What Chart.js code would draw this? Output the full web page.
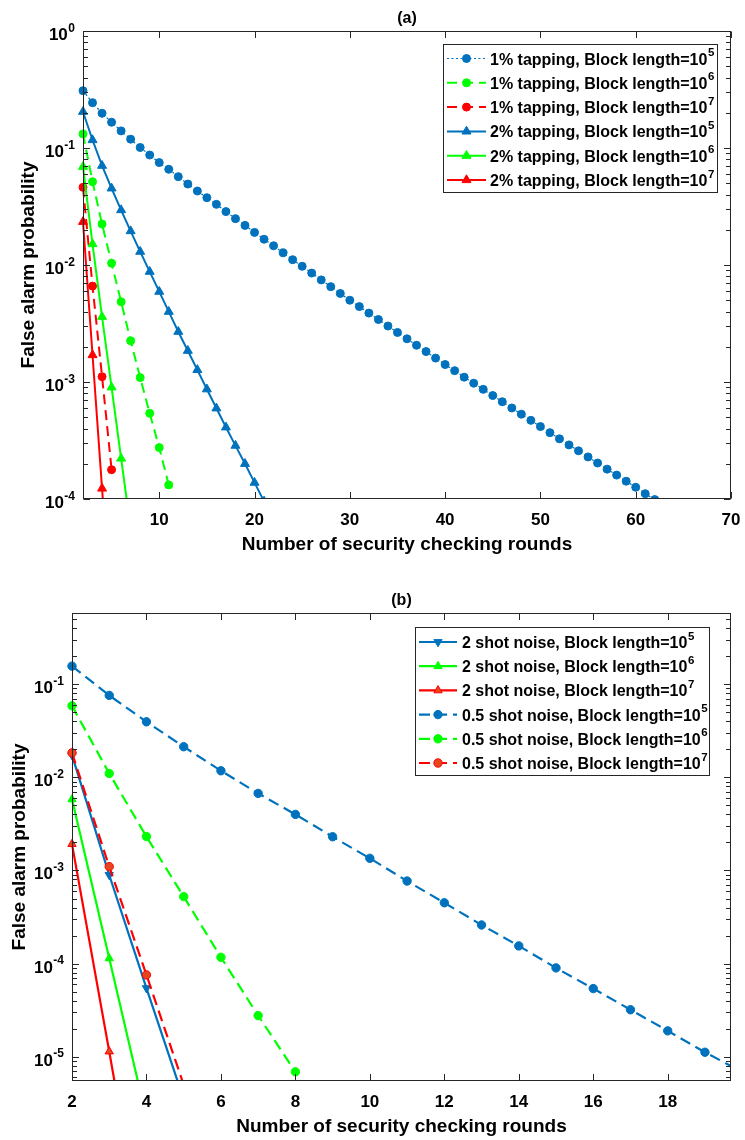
<!DOCTYPE html>
<html><head><meta charset="utf-8">
<script src="https://cdn.jsdelivr.net/npm/chart.js@4.4.1/dist/chart.umd.min.js"></script>
<style>
html,body{margin:0;padding:0;background:#fff;}
#wrap{position:relative;width:745px;height:1140px;overflow:hidden;}
canvas{position:absolute;left:0;}
</style></head><body>
<div id="wrap">
<canvas id="ca" width="745" height="570" style="top:0px"></canvas>
<canvas id="cb" width="745" height="570" style="top:570px"></canvas>
</div>
<script>
// ---------------- DATA : panel (a) ----------------
const roundsA_1pct_1e5 = [2,3,4,5,6,7,8,9,10,11,12,13,14,15,16,17,18,19,20,21,22,23,24,25,26,27,28,29,30,31,32,33,34,35,36,37,38,39,40,41,42,43,44,45,46,47,48,49,50,51,52,53,54,55,56,57,58,59,60,61,62];
const faA_1pct_1e5 = [0.309,0.244,0.198,0.166,0.140,0.119,0.101,0.0871,0.0750,0.0658,0.0569,0.0492,0.0429,0.0376,0.0330,0.0286,0.0249,0.0218,0.0190,0.0166,0.0146,0.0127,0.0111,0.00975,0.00853,0.00746,0.00653,0.00571,0.00500,0.00441,0.00388,0.00342,0.00301,0.00265,0.00234,0.00206,0.00182,0.00160,0.00141,0.00125,0.00110,0.000977,0.000865,0.000766,0.000678,0.000600,0.000531,0.000470,0.000416,0.000369,0.000327,0.000290,0.000258,0.000229,0.000203,0.000180,0.000160,0.000142,0.000126,0.000111,0.0000989];
const roundsA_1pct_1e6 = [2,3,4,5,6,7,8,9,10,11];
const faA_1pct_1e6 = [0.132,0.0515,0.0224,0.01035,0.00485,0.00225,0.00109,0.000540,0.000275,0.000132];
const roundsA_1pct_1e7 = [2,3,4,5];
const faA_1pct_1e7 = [0.0461,0.0066,0.00111,0.000178];
const roundsA_2pct_1e5 = [2,3,4,5,6,7,8,9,10,11,12,13,14,15,16,17,18,19,20,21];
const faA_2pct_1e5 = [0.204,0.117,0.0706,0.0452,0.0295,0.0195,0.0130,0.00877,0.00592,0.00399,0.00269,0.00185,0.00127,0.000867,0.000596,0.000410,0.000286,0.000200,0.000138,0.0000955];
const roundsA_2pct_1e6 = [2,3,4,5,6,7];
const faA_2pct_1e6 = [0.0692,0.0151,0.00361,0.000901,0.000222,0.0000562];
const roundsA_2pct_1e7 = [2,3,4,5];
const faA_2pct_1e7 = [0.0234,0.0017,0.000123,0.0000089];
const legendA = ['1% tapping, Block length=10^5','1% tapping, Block length=10^6','1% tapping, Block length=10^7',
                 '2% tapping, Block length=10^5','2% tapping, Block length=10^6','2% tapping, Block length=10^7'];
const xTicksA = [10,20,30,40,50,60,70];
const yExpA = [0,-1,-2,-3,-4];
const xRangeA = [2,70];
const yRangeA = [1e-4,1];

// ---------------- DATA : panel (b) ----------------
const roundsB_2sn_1e5 = [2,3,4,5];
const faB_2sn_1e5 = [0.0173,0.000895,0.0000546,0.0000035];
const roundsB_2sn_1e6 = [2,3,4];
const faB_2sn_1e6 = [0.0058,0.000114,0.0000022];
const roundsB_2sn_1e7 = [2,3,4];
const faB_2sn_1e7 = [0.00192,0.0000114,0.000000063];
const roundsB_05sn_1e5 = [2,3,4,5,6,7,8,9,10,11,12,13,14,15,16,17,18,19,20];
const faB_05sn_1e5 = [0.156,0.0757,0.0394,0.0213,0.01175,0.00672,0.0040,0.0023,0.00135,0.00077,0.00045,0.00026,0.000155,0.00009,0.000054,0.000032,0.000019,0.0000112,0.0000069];
const roundsB_05sn_1e6 = [2,3,4,5,6,7,8];
const faB_05sn_1e6 = [0.0585,0.0110,0.00231,0.000524,0.000117,0.0000277,0.0000069];
const roundsB_05sn_1e7 = [2,3,4,5];
const faB_05sn_1e7 = [0.0183,0.0011,0.0000757,0.000005];
const legendB = ['2 shot noise, Block length=10^5','2 shot noise, Block length=10^6','2 shot noise, Block length=10^7',
                 '0.5 shot noise, Block length=10^5','0.5 shot noise, Block length=10^6','0.5 shot noise, Block length=10^7'];
const xTicksB = [2,4,6,8,10,12,14,16,18];
const yExpB = [-1,-2,-3,-4,-5];
const xRangeB = [2,19.7];
const yRangeB = [5.5e-6,0.58];

// ---------------- STYLE ----------------
const BLUE = '#0072BD', GREEN = '#00FF00', RED = '#FF0000', ORANGE = '#E5461E', AX = '#262626';
const FAM = '"Liberation Sans", Arial, Helvetica, sans-serif';

function series(rounds, vals){ return rounds.map((r,i)=>({x:r, y:vals[i]})); }

function ds(label, data, color, dash, width, style, radius, rot, face){
  return {label, data, borderColor: color, backgroundColor: face||color, borderWidth: width,
    borderDash: dash, pointStyle: style, pointRadius: radius, pointRotation: rot||0,
    pointBorderColor: color, pointBackgroundColor: face||color, pointBorderWidth: 1,
    tension: 0, fill: false, clip: {left: 12, top: 12, right: 0, bottom: 0}};
}

function drawMarker(ctx, style, x, y, r, rot, fill, stroke){
  ctx.save(); ctx.setLineDash([]);
  ctx.beginPath();
  if (style === 'circle') ctx.arc(x, y, r, 0, Math.PI*2);
  else {
    let t = (rot||0)*Math.PI/180;
    for (let k=0;k<3;k++){ const px = x + Math.sin(t)*r, py = y - Math.cos(t)*r; if(k) ctx.lineTo(px,py); else ctx.moveTo(px,py); t += 2*Math.PI/3; }
    ctx.closePath();
  }
  ctx.fillStyle = fill; ctx.fill(); ctx.strokeStyle = stroke; ctx.lineWidth = 1; ctx.stroke();
  ctx.restore();
}

function supText(ctx, x, y, base, sup, fb, fs, raise, align){
  ctx.font = fb; const wb = ctx.measureText(base).width;
  ctx.font = fs; const ws = sup ? ctx.measureText(sup).width + 0.5 : 0;
  const w = wb + ws;
  const x0 = align === 'right' ? x - w : (align === 'center' ? x - w/2 : x);
  ctx.textAlign = 'left'; ctx.textBaseline = 'alphabetic'; ctx.fillStyle = '#000';
  ctx.font = fb; ctx.fillText(base, x0, y);
  if (sup){ ctx.font = fs; ctx.fillText(sup, x0 + wb + 0.5, y - raise); }
}

function makeDecor(cfg){
  return {
    id: 'decor',
    afterDatasetsDraw(chart){
      const ctx = chart.ctx, a = chart.chartArea, xs = chart.scales.x, ys = chart.scales.y;
      ctx.save();
      ctx.setLineDash([]);
      ctx.strokeStyle = AX; ctx.lineWidth = 1;
      const L = Math.round(a.left)+0.5, R = Math.round(a.right)-0.5, T = Math.round(a.top)+0.5, B = Math.round(a.bottom)-0.5;
      ctx.strokeRect(L, T, R-L, B-T);
      const MJ = 6.5, MN = 4.5;
      ctx.beginPath();
      cfg.xTicks.forEach(v => {
        const px = Math.round(xs.getPixelForValue(v)) + 0.5;
        ctx.moveTo(px, B); ctx.lineTo(px, B - MJ);
        ctx.moveTo(px, T); ctx.lineTo(px, T + MJ);
      });
      const lo = Math.floor(Math.log10(cfg.yRange[0])), hi = Math.ceil(Math.log10(cfg.yRange[1]));
      for (let e = lo; e <= hi; e++){
        for (let m = 1; m <= 9; m++){
          const v = m * Math.pow(10, e);
          if (v < cfg.yRange[0]*0.999 || v > cfg.yRange[1]*1.001) continue;
          const py = Math.round(ys.getPixelForValue(v)) + 0.5;
          const len = m === 1 ? MJ : MN;
          ctx.moveTo(L, py); ctx.lineTo(L + len, py);
          ctx.moveTo(R, py); ctx.lineTo(R - len, py);
        }
      }
      ctx.stroke();
      const fT = 'bold 17px ' + FAM, fTs = 'bold 12px ' + FAM;
      cfg.xTicks.forEach(v => {
        ctx.font = fT; ctx.fillStyle = '#000'; ctx.textAlign = 'center'; ctx.textBaseline = 'alphabetic';
        ctx.fillText(String(v), xs.getPixelForValue(v), a.bottom + 25.5);
      });
      cfg.yExp.forEach(e => {
        const py = ys.getPixelForValue(Math.pow(10, e));
        supText(ctx, a.left - 8, py + 9, '10', String(e), fT, fTs, 8.5, 'right');
      });
      ctx.font = 'bold 19px ' + FAM; ctx.fillStyle = '#000'; ctx.textAlign = 'center'; ctx.textBaseline = 'alphabetic';
      ctx.fillText(cfg.xTitle, (a.left + a.right)/2, a.bottom + 50.5);
      ctx.save();
      ctx.translate(cfg.yTitleX, (a.top + a.bottom)/2); ctx.rotate(-Math.PI/2);
      ctx.fillText(cfg.yTitle, 0, 0);
      ctx.restore();
      ctx.font = 'bold 16px ' + FAM; ctx.textAlign = 'center';
      ctx.fillText(cfg.title, (a.left + a.right)/2, a.top - 8.5);
      const lg = cfg.legend;
      ctx.fillStyle = '#fff'; ctx.fillRect(lg.left, lg.top, lg.right - lg.left, lg.bottom - lg.top);
      ctx.strokeStyle = AX; ctx.lineWidth = 1;
      ctx.strokeRect(lg.left + 0.5, lg.top + 0.5, lg.right - lg.left, lg.bottom - lg.top);
      chart.data.datasets.forEach((d, i) => {
        const ry = lg.row0 + i * lg.step;
        ctx.save();
        ctx.strokeStyle = d.borderColor; ctx.lineWidth = d.borderWidth;
        ctx.setLineDash(d.borderDash || []);
        ctx.beginPath(); ctx.moveTo(lg.s0, ry); ctx.lineTo(lg.s1, ry); ctx.stroke();
        ctx.restore();
        drawMarker(ctx, d.pointStyle, (lg.s0 + lg.s1)/2, ry, d.pointRadius, d.pointRotation, d.pointBackgroundColor, d.pointBorderColor);
        const parts = d.label.split('^');
        supText(ctx, lg.textX, ry + 6, parts[0], parts[1], 'bold 16px ' + FAM, 'bold 11.5px ' + FAM, 8.5, 'left');
      });
      ctx.restore();
    }
  };
}

function makeChart(id, datasets, xr, yr, pad, cfg){
  datasets.forEach((d, i) => { d.order = datasets.length - 1 - i; });
  return new Chart(document.getElementById(id), {
    type: 'line',
    data: { datasets },
    options: {
      responsive: false, animation: false, devicePixelRatio: 1, events: [],
      layout: { padding: pad },
      scales: {
        x: { type: 'linear', min: xr[0], max: xr[1], display: false },
        y: { type: 'logarithmic', min: yr[0], max: yr[1], display: false }
      },
      plugins: { legend: { display: false }, tooltip: { enabled: false }, title: { display: false } }
    },
    plugins: [makeDecor(cfg)]
  });
}

// ---------- panel (a) ----------
const datasetsA = [
  ds(legendA[0], series(roundsA_1pct_1e5, faA_1pct_1e5), BLUE, [2,2.5], 1.2, 'circle', 4),
  ds(legendA[1], series(roundsA_1pct_1e6, faA_1pct_1e6), GREEN, [10,6], 2, 'circle', 4),
  ds(legendA[2], series(roundsA_1pct_1e7, faA_1pct_1e7), RED, [10,6], 2, 'circle', 4),
  ds(legendA[3], series(roundsA_2pct_1e5, faA_2pct_1e5), BLUE, [], 2, 'triangle', 5.2),
  ds(legendA[4], series(roundsA_2pct_1e6, faA_2pct_1e6), GREEN, [], 2, 'triangle', 5.2),
  ds(legendA[5], series(roundsA_2pct_1e7, faA_2pct_1e7), RED, [], 2, 'triangle', 5.2)
];
makeChart('ca', datasetsA, xRangeA, yRangeA, {left: 83, right: 14, top: 31, bottom: 71}, {
  xTicks: xTicksA, yExp: yExpA, yRange: yRangeA, title: '(a)',
  xTitle: 'Number of security checking rounds', yTitle: 'False alarm probability', yTitleX: 34,
  legend: {left: 443, right: 717, top: 44, bottom: 192, row0: 58.5, step: 24.3, s0: 447, s1: 486, textX: 490}
});

// ---------- panel (b) ----------
const datasetsB = [
  ds(legendB[0], series(roundsB_2sn_1e5, faB_2sn_1e5), BLUE, [], 2.2, 'triangle', 4.8, 180),
  ds(legendB[1], series(roundsB_2sn_1e6, faB_2sn_1e6), GREEN, [], 2.2, 'triangle', 4.8),
  ds(legendB[2], series(roundsB_2sn_1e7, faB_2sn_1e7), RED, [], 2.2, 'triangle', 4.8, 0, ORANGE),
  ds(legendB[3], series(roundsB_05sn_1e5, faB_05sn_1e5), BLUE, [11,6], 2.2, 'circle', 4.2),
  ds(legendB[4], series(roundsB_05sn_1e6, faB_05sn_1e6), GREEN, [11,6], 2.2, 'circle', 4.2),
  ds(legendB[5], series(roundsB_05sn_1e7, faB_05sn_1e7), RED, [11,6], 2.2, 'circle', 4.2, 0, ORANGE)
];
makeChart('cb', datasetsB, xRangeB, yRangeB, {left: 72, right: 14, top: 43, bottom: 59}, {
  xTicks: xTicksB, yExp: yExpB, yRange: yRangeB, title: '(b)',
  xTitle: 'Number of security checking rounds', yTitle: 'False alarm probability', yTitleX: 25,
  legend: {left: 415, right: 709, top: 57, bottom: 205, row0: 72, step: 24.2, s0: 419, s1: 457, textX: 462}
});
</script>
</body></html>
